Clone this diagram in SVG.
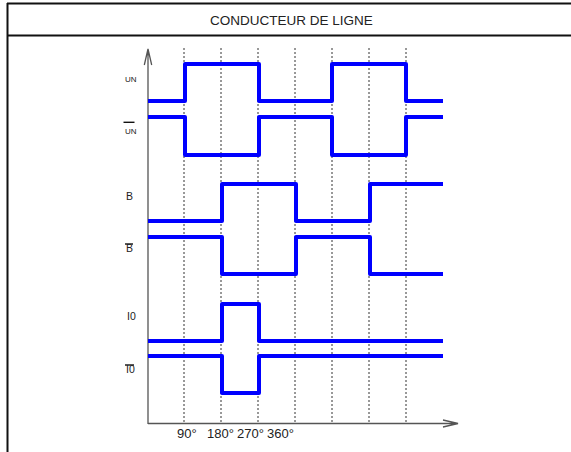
<svg xmlns="http://www.w3.org/2000/svg" width="571" height="452" viewBox="0 0 571 452">
<style>
.frame{stroke:#111;stroke-width:2;fill:none}
.axis{stroke:#555;stroke-width:1.3;fill:none}
.grid{stroke:#333;stroke-width:1;stroke-dasharray:2,2;fill:none}
.wave{stroke:#0000ff;stroke-width:4;fill:none;stroke-linejoin:round}
.lbl{font-family:"Liberation Sans",Arial,sans-serif;fill:#222}
.ob{stroke:#111;stroke-width:1.4}
</style>
<rect width="571" height="452" fill="#fff"/>
<g id="frame">
<line class="frame" x1="7" y1="3.5" x2="571" y2="3.5"/>
<line class="frame" x1="7" y1="35.5" x2="571" y2="35.5"/>
<line class="frame" x1="7.5" y1="3" x2="7.5" y2="452"/>
<text class="lbl" x="291.5" y="25" font-size="13.5" text-anchor="middle">CONDUCTEUR DE LIGNE</text>
</g>
<g id="grid">
<line class="grid" x1="184" y1="48" x2="184" y2="423"/>
<line class="grid" x1="221" y1="48" x2="221" y2="423"/>
<line class="grid" x1="258" y1="48" x2="258" y2="423"/>
<line class="grid" x1="295" y1="48" x2="295" y2="423"/>
<line class="grid" x1="332" y1="48" x2="332" y2="423"/>
<line class="grid" x1="369" y1="48" x2="369" y2="423"/>
<line class="grid" x1="406" y1="48" x2="406" y2="423"/>
</g>
<g id="connectors">
<path class="axis" d="M148,424 V49 M144.3,65 L148,49 L151.7,65"/>
<path class="axis" d="M148,423.5 H458 M443,420 L458,423.5 L443,427"/>
</g>
<g id="axis-labels" class="lbl" font-size="13">
<text x="177" y="438">90°</text>
<text x="207" y="438">180°</text>
<text x="237" y="438">270°</text>
<text x="267" y="438">360°</text>
</g>
<g id="sig-UN">
<text class="lbl" x="125" y="82" font-size="8">UN</text>
<path class="wave" d="M148,101 H185 V64 H259 V101 H332 V64 H406 V101 H443"/>
</g>
<g id="sig-UNbar">
<line class="ob" x1="123.5" y1="122.3" x2="134.5" y2="122.3" stroke-width="2"/>
<text class="lbl" x="125" y="134" font-size="8">UN</text>
<path class="wave" d="M148,117 H185 V155 H259 V117 H332 V155 H406 V117 H443"/>
</g>
<g id="sig-B">
<text class="lbl" x="126" y="200" font-size="10.5">B</text>
<path class="wave" d="M148,221 H222 V184 H296 V221 H370 V184 H443"/>
</g>
<g id="sig-Bbar">
<line class="ob" x1="125" y1="244" x2="133" y2="244"/>
<text class="lbl" x="126" y="252" font-size="10.5">B</text>
<path class="wave" d="M148,237 H222 V274 H296 V237 H370 V274 H443"/>
</g>
<g id="sig-I0">
<text class="lbl" x="127" y="320" font-size="10.5">I0</text>
<path class="wave" d="M148,341 H222 V304 H259 V341 H443"/>
</g>
<g id="sig-I0bar">
<line class="ob" x1="125" y1="365" x2="134" y2="365"/>
<text class="lbl" x="126" y="373" font-size="10.5">I0</text>
<path class="wave" d="M148,356 H222 V393 H259 V356 H443"/>
</g>
</svg>
